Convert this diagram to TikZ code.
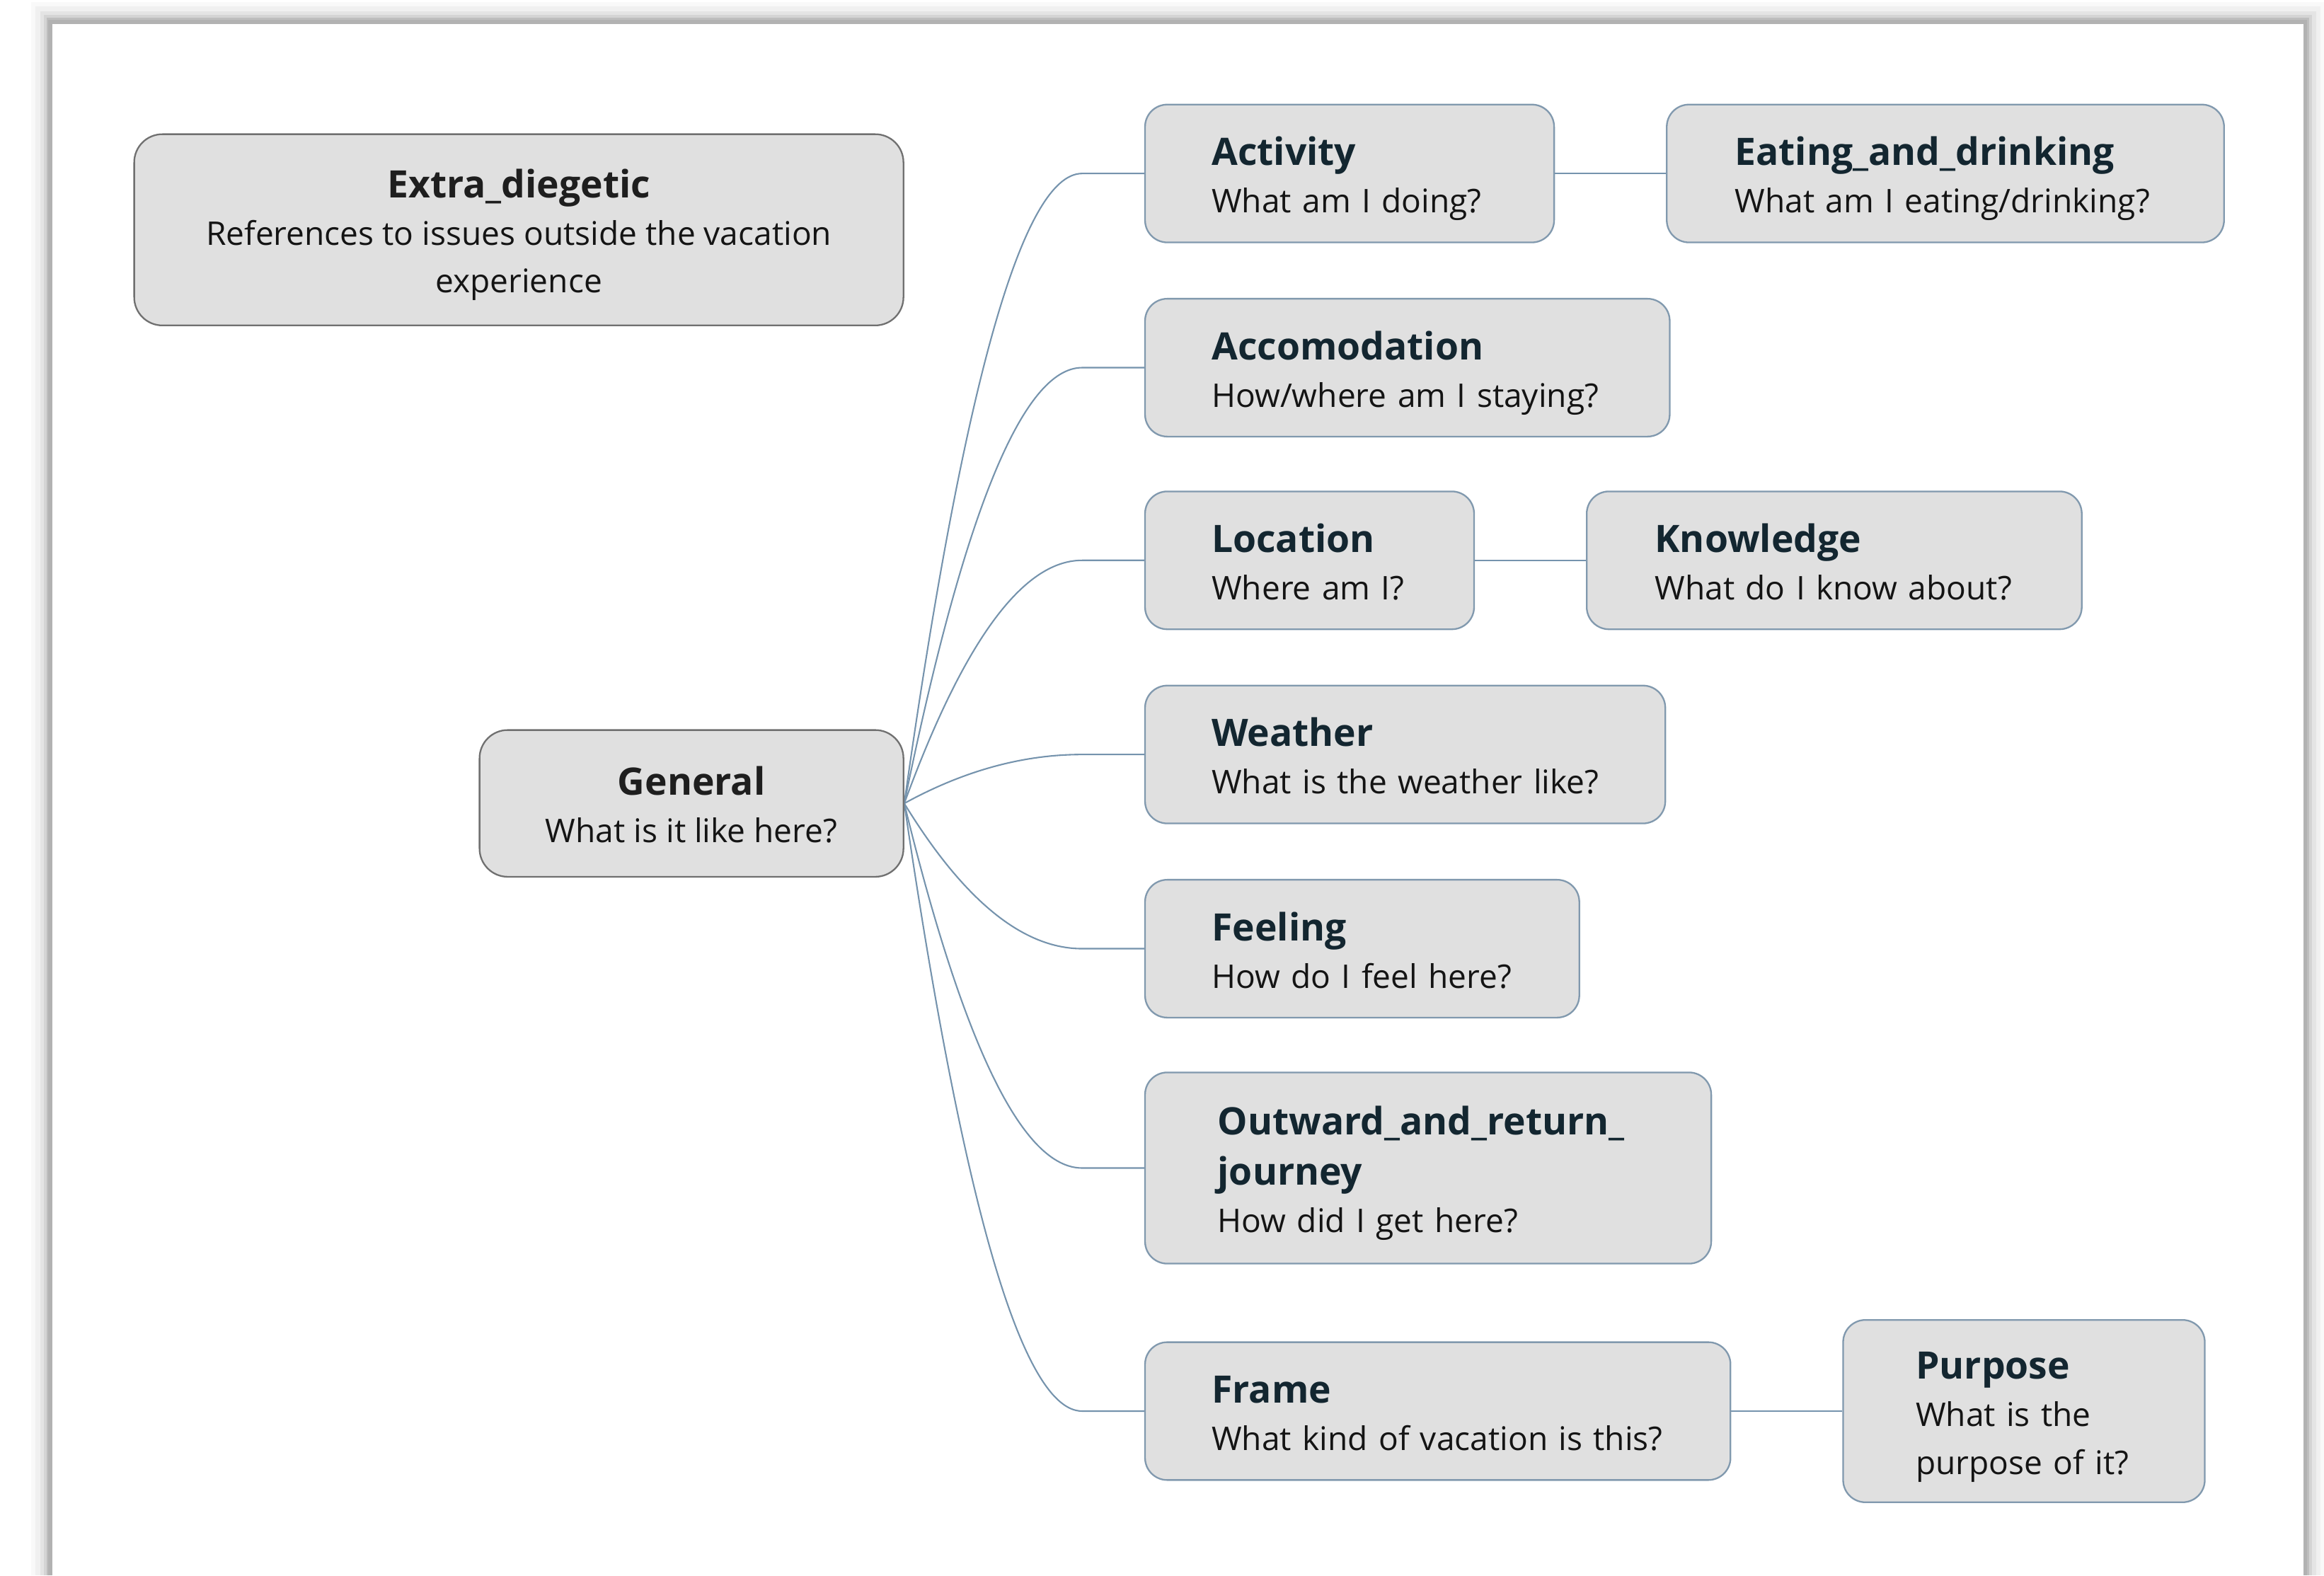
\documentclass[tikz,border=0pt]{standalone}
\usepackage{fontspec}
\setmainfont{Open Sans}
\usetikzlibrary{calc,backgrounds}
\definecolor{boxfill}{HTML}{E0E0E0}
\definecolor{titlecol}{HTML}{132630}
\definecolor{darktitle}{HTML}{1E1E1E}
\definecolor{bodycol}{HTML}{141414}
\definecolor{childline}{HTML}{8199AE}
\definecolor{genline}{HTML}{707070}
\definecolor{conncol}{HTML}{7593AD}
\definecolor{pageline}{HTML}{B2B2B2}
\newcommand{\ttl}[1]{{\color{titlecol}\bfseries\fontsize{25.5}{32}\selectfont #1}}
\newcommand{\gttl}[1]{{\color{darktitle}\bfseries\fontsize{25.5}{32}\selectfont #1}}
\newcommand{\topstrut}{\rule{0pt}{29pt}}
\newcommand{\botstrut}{\rule[-8pt]{0pt}{0pt}}
\tikzset{
  childbox/.style={draw=childline, fill=boxfill, line width=1.1pt, rounded corners=15pt,
    anchor=north west, align=left, inner xsep=45pt, inner ysep=0pt,
    font=\fontsize{22}{32}\selectfont, text=bodycol},
  rootbox/.style={draw=genline, fill=boxfill, line width=1.1pt, rounded corners=19pt,
    anchor=north west, align=center, inner sep=0pt,
    font=\fontsize{22}{32}\selectfont, text=bodycol},
  conn/.style={draw=conncol, line width=1pt},
  shadowline/.style={draw=black, line cap=butt},
}
\begin{document}
\begin{tikzpicture}[x=1pt,y=-1pt]
\useasboundingbox (0,0) rectangle (1568,1063);

% nodes
\node[rootbox, minimum width=519pt, minimum height=129pt] (extra) at (90,90)
  {\topstrut\gttl{Extra\_diegetic}\\References to issues outside the vacation\\experience\botstrut};
\node[rootbox, minimum width=286pt, minimum height=99pt] (gen) at (323,492)
  {\topstrut\gttl{General}\\What is it like here?\botstrut};

\node[childbox, text width=186pt, minimum height=93pt] (act) at (772,70)
  {\topstrut\ttl{Activity}\\\mbox{What am I doing?}\botstrut};
\node[childbox, inner xsep=46pt, text width=284pt, minimum height=93pt] (eat) at (1124,70)
  {\topstrut\ttl{Eating\_and\_drinking}\\\mbox{What am I eating/drinking?}\botstrut};
\node[childbox, text width=264pt, minimum height=93pt] (acc) at (772,201)
  {\topstrut\ttl{Accomodation}\\\mbox{How/where am I staying?}\botstrut};
\node[childbox, text width=132pt, minimum height=93pt] (loc) at (772,331)
  {\topstrut\ttl{Location}\\\mbox{Where am I?}\botstrut};
\node[childbox, inner xsep=46pt, text width=242pt, minimum height=93pt] (kno) at (1070,331)
  {\topstrut\ttl{Knowledge}\\\mbox{What do I know about?}\botstrut};
\node[childbox, text width=261pt, minimum height=93pt] (wea) at (772,462)
  {\topstrut\ttl{Weather}\\\mbox{What is the weather like?}\botstrut};
\node[childbox, text width=203pt, minimum height=93pt] (fee) at (772,593)
  {\topstrut\ttl{Feeling}\\\mbox{How do I feel here?}\botstrut};
\node[childbox, inner xsep=49pt, text width=284pt, minimum height=129pt] (out) at (772,723)
  {\topstrut\ttl{Outward\_and\_return\_}\\[2pt]\ttl{journey}\\\mbox{How did I get here?}\botstrut};
\node[childbox, text width=305pt, minimum height=93pt] (fra) at (772,905)
  {\topstrut\ttl{Frame}\\\mbox{What kind of vacation is this?}\botstrut};
\node[childbox, inner xsep=49pt, text width=146pt, minimum height=123pt] (pur) at (1243,890)
  {\topstrut\ttl{Purpose}\\\mbox{What is the}\\\mbox{purpose of it?}\botstrut};

\begin{scope}[on background layer]
  % page frame with soft shadow
  \foreach \w/\o in {26/0.025,20/0.035,14/0.05,9/0.07,5/0.10}{
    \draw[shadowline, line width=\w pt, opacity=\o]
      (34,1063) -- (34,14.5) -- (1555.5,14.5) -- (1555.5,1063);
  }
  \fill[white] (35.3,16) rectangle (1554,1063);
  \draw[draw=pageline, line width=2.6pt, line cap=butt]
    (34,1063) -- (34,14.7) -- (1555.4,14.7) -- (1555.4,1063);

  % connectors
  \coordinate (q)  at ($(gen.east)+(60,0)$);
  \coordinate (c2) at ($(gen.east)+(80,0)$);
  \coordinate (p2) at ($(gen.east)+(120,0)$);
  \foreach \c in {act,acc,loc,wea,fee,out,fra}{
    \draw[conn] (gen.east) .. controls ($(gen.east)!0.6667!(q |- \c.west)$) and (c2 |- \c.west)
      .. (p2 |- \c.west) -- (\c.west);
  }
  \draw[conn] (act.east) -- (eat.west);
  \draw[conn] (loc.east) -- (kno.west);
  \draw[conn] (fra.east) -- (pur.west);
\end{scope}
\end{tikzpicture}
\end{document}
